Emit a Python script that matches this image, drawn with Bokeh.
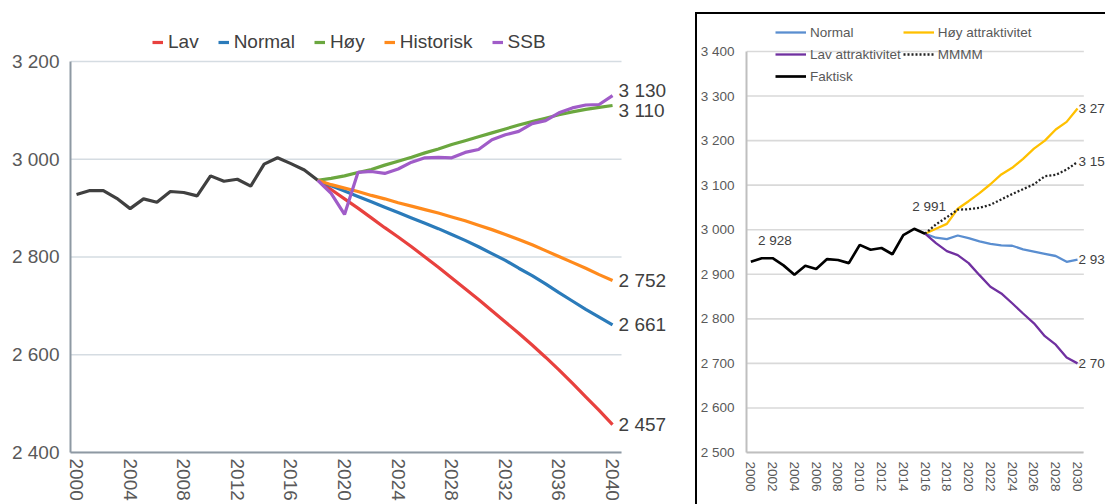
import math
from bokeh.plotting import figure
from bokeh.models import Legend, LegendItem, Label, FixedTicker, Div, Spacer
from bokeh.layouts import row, column
from bokeh.embed import file_html
from bokeh.resources import INLINE

# ---------------- data: left chart ----------------
left_hist_years = list(range(2000, 2019))
left_hist = [2928, 2936, 2936, 2920, 2899, 2919, 2912, 2934, 2932, 2925,
             2966, 2955, 2959, 2945, 2990, 3003, 2991, 2978, 2957]
left_fc_years = list(range(2018, 2041))
lav = [2957, 2938, 2919, 2900, 2880, 2860, 2841, 2821, 2800, 2779, 2757, 2735,
       2713, 2690, 2667, 2644, 2620, 2595, 2569, 2542, 2514, 2486, 2457]
normal = [2957, 2946, 2935, 2924, 2913, 2902, 2891, 2880, 2869, 2858, 2846, 2834,
          2821, 2807, 2793, 2777, 2762, 2745, 2727, 2710, 2693, 2677, 2661]
hoy = [2957, 2961, 2966, 2973, 2979, 2988, 2996, 3004, 3013, 3021, 3030, 3038,
       3046, 3054, 3062, 3070, 3077, 3084, 3091, 3097, 3102, 3106, 3110]
historisk = [2957, 2948, 2941, 2934, 2926, 2919, 2911, 2904, 2897, 2890, 2882, 2874,
             2865, 2856, 2846, 2836, 2825, 2813, 2801, 2789, 2777, 2764, 2752]
ssb = [2957, 2930, 2887, 2973, 2975, 2971, 2980, 2994, 3003, 3004, 3003, 3014,
       3020, 3040, 3050, 3057, 3073, 3079, 3095, 3105, 3111, 3112, 3130]
left_names = ["Lav", "Normal", "Høy", "Historisk", "SSB"]
left_y_ticks = [2400, 2600, 2800, 3000, 3200]
left_x_ticks = list(range(2000, 2041, 4))

# ---------------- data: right chart ----------------
right_hist_years = list(range(2000, 2017))
right_hist = [2928, 2936, 2936, 2920, 2899, 2919, 2912, 2934, 2932, 2925,
              2966, 2955, 2959, 2945, 2988, 3002, 2991]
right_fc_years = list(range(2016, 2031))
r_normal = [2991, 2982, 2979, 2987, 2981, 2974, 2968, 2965, 2964, 2956, 2951, 2946, 2941, 2928, 2933]
r_hoy = [2991, 3002, 3013, 3047, 3064, 3082, 3102, 3124, 3139, 3159, 3182, 3200, 3225, 3242, 3272]
r_lav = [2991, 2970, 2952, 2943, 2925, 2898, 2872, 2857, 2835, 2812, 2790, 2761, 2742, 2713, 2700]
r_mmmm = [2991, 3012, 3028, 3045, 3046, 3049, 3056, 3068, 3080, 3091, 3102, 3120, 3123, 3135, 3152]
right_names = ["Normal", "Høy attraktivitet", "Lav attraktivitet", "MMMM", "Faktisk"]
right_y_ticks = list(range(2500, 3401, 100))
right_x_ticks = list(range(2000, 2031, 2))


def fmt(v):
    return f"{v:,}".replace(",", " ")


FONT = "Liberation Sans"

# ================= left chart =================
L_X0, L_X1 = 1999.55, 2040.67          # extent of the axis / grid
L_Y0, L_Y1 = 2400, 3200
p1 = figure(width=695, height=504, x_range=(L_X0, 2046.19), y_range=(L_Y0, 3324.8),
            output_backend="svg", toolbar_location=None,
            min_border_left=70, min_border_right=0, min_border_top=0, min_border_bottom=52)
p1.outline_line_color = None
p1.xgrid.visible = False
p1.ygrid.visible = False
n = len(left_y_ticks)
p1.segment(x0=[L_X0] * n, x1=[L_X1] * n, y0=left_y_ticks, y1=left_y_ticks,
           line_color="#D5DCE2", line_width=1.6, level="underlay")

for ax in (p1.xaxis[0], p1.yaxis[0]):
    ax.axis_line_color = "#8E99A3"
    ax.axis_line_width = 2
    ax.major_tick_line_color = None
    ax.minor_tick_line_color = None
    ax.major_tick_out = 0
    ax.minor_tick_out = 0
    ax.major_label_text_color = "#595959"
    ax.major_label_text_font = FONT
    ax.major_label_text_font_size = "19px"

p1.yaxis.bounds = (L_Y0, L_Y1)
p1.yaxis.ticker = FixedTicker(ticks=left_y_ticks)
p1.yaxis.major_label_overrides = {t: fmt(t) for t in left_y_ticks}
p1.yaxis.major_label_standoff = 11
p1.xaxis.bounds = (L_X0, L_X1)
p1.xaxis.ticker = FixedTicker(ticks=left_x_ticks)
p1.xaxis.major_label_orientation = -math.pi / 2
p1.xaxis.major_label_standoff = 6

p1.line(left_hist_years, left_hist, line_color="#404040", line_width=3.2)
left_series = [lav, normal, hoy, historisk, ssb]
left_colors = ["#E8413E", "#2B7BBA", "#6BA73F", "#FF8A1C", "#A05CC8"]
items = []
for name, vals, col in zip(left_names, left_series, left_colors):
    r = p1.line(left_fc_years, vals, line_color=col, line_width=3.2)
    items.append(LegendItem(label=name, renderers=[r]))

leg1 = Legend(items=items, orientation="horizontal", location=(82, 399),
              glyph_width=11, glyph_height=22, label_height=22, label_standoff=5, spacing=19,
              padding=0, margin=0, border_line_alpha=0, background_fill_alpha=0,
              label_text_font_size="19px", label_text_color="#404040",
              label_text_font=FONT)
p1.add_layout(leg1)

end_offsets = [0, 0, -5, 0, 5]
for vals, dy in zip(left_series, end_offsets):
    p1.add_layout(Label(x=left_fc_years[-1], y=vals[-1], x_offset=6, y_offset=dy,
                        text=fmt(vals[-1]), text_align="left", text_baseline="middle",
                        text_font_size="19px", text_color="#404040", text_font=FONT))

# ================= right chart =================
R_X0, R_X1 = 1999.6, 2030.58
R_Y0, R_Y1 = 2500, 3400
p2 = figure(width=408, height=490, x_range=(R_X0, 2032.57), y_range=(R_Y0, 3483.0),
            output_backend="svg", toolbar_location=None,
            min_border_left=49, min_border_right=0, min_border_top=0, min_border_bottom=52)
p2.outline_line_color = None
p2.xgrid.visible = False
p2.ygrid.visible = False
m = len(right_y_ticks)
p2.segment(x0=[R_X0] * m, x1=[R_X1] * m, y0=right_y_ticks, y1=right_y_ticks,
           line_color="#D9D9D9", line_width=1.6, level="underlay")
for ax in (p2.xaxis[0], p2.yaxis[0]):
    ax.axis_line_color = "#BFBFBF"
    ax.axis_line_width = 2
    ax.major_tick_line_color = None
    ax.minor_tick_line_color = None
    ax.major_tick_out = 0
    ax.minor_tick_out = 0
    ax.major_label_text_color = "#595959"
    ax.major_label_text_font = FONT
    ax.major_label_text_font_size = "13.5px"
p2.yaxis.bounds = (R_Y0, R_Y1)
p2.yaxis.ticker = FixedTicker(ticks=right_y_ticks)
p2.yaxis.major_label_overrides = {t: fmt(t) for t in right_y_ticks}
p2.yaxis.major_label_standoff = 12
p2.xaxis.bounds = (R_X0, R_X1)
p2.xaxis.ticker = FixedTicker(ticks=right_x_ticks)
p2.xaxis.major_label_orientation = -math.pi / 2
p2.xaxis.major_label_standoff = 9

r_norm = p2.line(right_fc_years, r_normal, line_color="#5A8ED0", line_width=2.3)
r_h = p2.line(right_fc_years, r_hoy, line_color="#FFC000", line_width=2.3)
r_l = p2.line(right_fc_years, r_lav, line_color="#7030A0", line_width=2.3)
r_m = p2.line(right_fc_years, r_mmmm, line_color="#222222", line_width=2.3, line_dash="2 2")
r_f = p2.line(right_hist_years, right_hist, line_color="#000000", line_width=2.7)

leg2 = Legend(items=[LegendItem(label=right_names[0], renderers=[r_norm]),
                     LegendItem(label=right_names[2], renderers=[r_l]),
                     LegendItem(label=right_names[4], renderers=[r_f]),
                     LegendItem(label=right_names[1], renderers=[r_h]),
                     LegendItem(label=right_names[3], renderers=[r_m])],
              orientation="vertical", nrows=3, location=(29, 366),
              glyph_width=31, glyph_height=20, label_height=20, label_standoff=4, spacing=2,
              padding=0, margin=0, border_line_alpha=0, background_fill_alpha=0,
              label_text_font_size="13.5px", label_text_color="#595959",
              label_text_font=FONT)
p2.add_layout(leg2)

p2.add_layout(Label(x=right_hist_years[0], y=right_hist[0], x_offset=24, y_offset=21,
                    text=fmt(right_hist[0]), text_align="center", text_baseline="middle",
                    text_font_size="13.5px", text_color="#404040", text_font=FONT))
p2.add_layout(Label(x=right_hist_years[-1], y=right_hist[-1], x_offset=4, y_offset=27,
                    text=fmt(right_hist[-1]), text_align="center", text_baseline="middle",
                    text_font_size="13.5px", text_color="#404040", text_font=FONT))
for vals in (r_hoy, r_mmmm, r_normal, r_lav):
    p2.add_layout(Label(x=right_fc_years[-1], y=vals[-1], x_offset=1, y_offset=0,
                        text=fmt(vals[-1]), text_align="left", text_baseline="middle",
                        text_font_size="13.5px", text_color="#404040", text_font=FONT))

top_line = Div(text="", width=410, height=2, margin=0, styles={"background-color": "#000000"})
left_line = Div(text="", width=2, height=490, margin=0, styles={"background-color": "#000000"})
right_block = column(Spacer(width=410, height=12, margin=0), top_line,
                     row(left_line, p2, spacing=0), spacing=0)

layout = row(p1, right_block, spacing=0)
open("out.html", "w").write(file_html(layout, INLINE))
